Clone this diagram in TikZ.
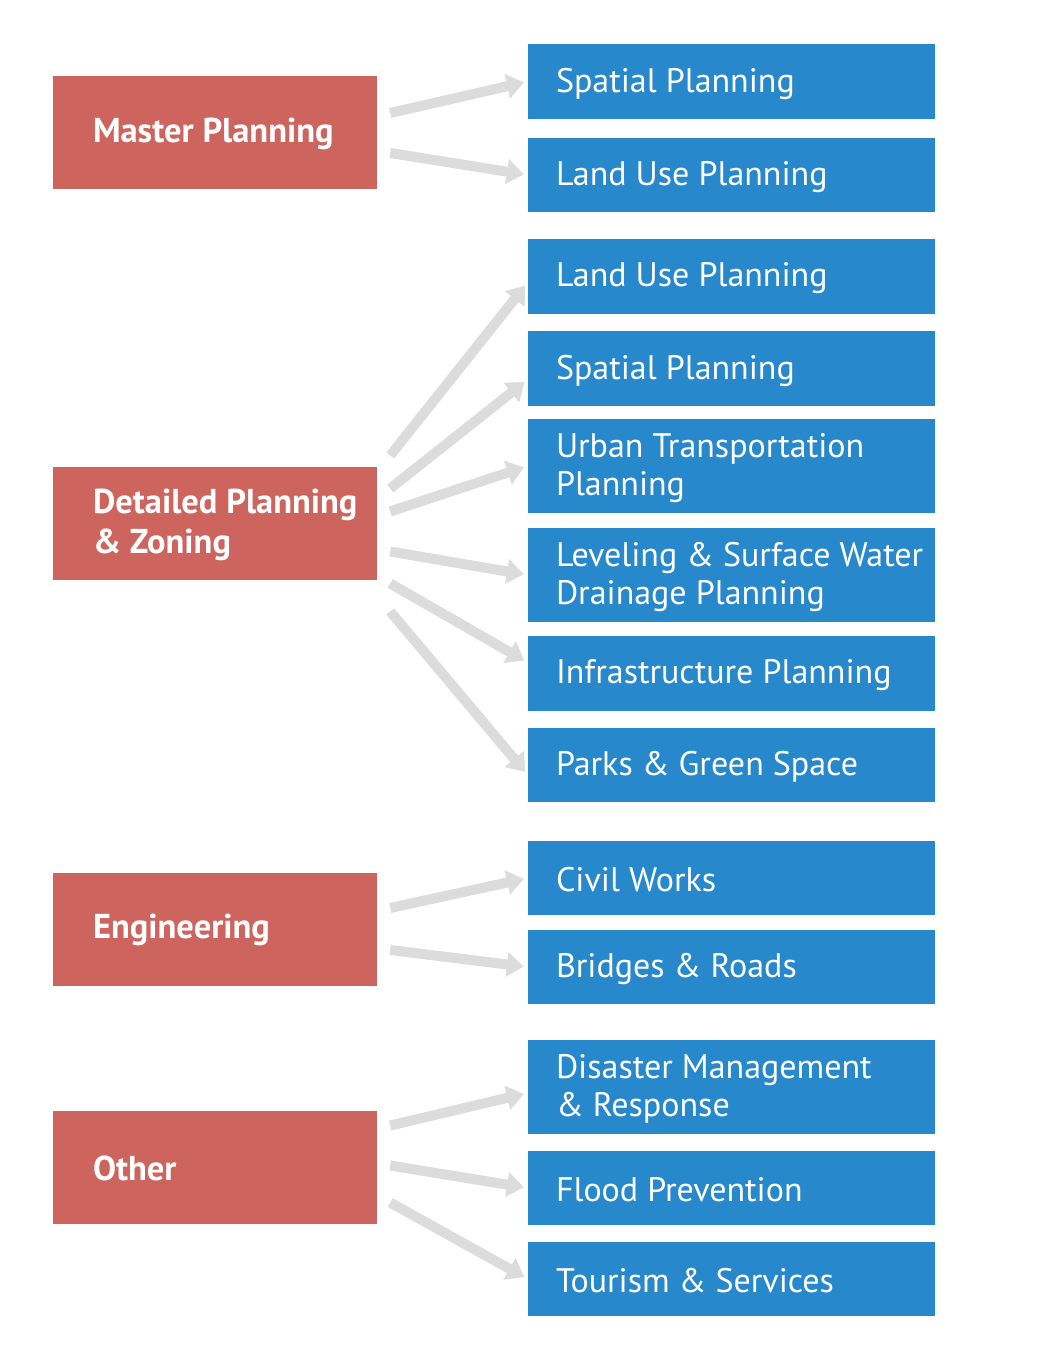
\documentclass[tikz,border=0pt]{standalone}
\usepackage{fontspec}
\setmainfont{PT Sans}
\usetikzlibrary{arrows.meta}

\definecolor{groupred}{RGB}{205,100,93}
\definecolor{taskblue}{RGB}{40,136,204}
\definecolor{linkgray}{RGB}{220,220,220}

\tikzset{
    group/.style={fill=groupred, minimum width=324pt, minimum height=113pt, inner sep=0pt},
    grouptext/.style={anchor=west, text=white, align=left, inner sep=0pt,
        font=\fontsize{34.5}{40}\selectfont\bfseries},
    task/.style={fill=taskblue, minimum width=407pt, minimum height=75pt, inner sep=0pt},
    tasktext/.style={anchor=west, text=white, align=left, inner sep=0pt,
        font=\fontsize{34}{38}\selectfont},
    link/.style={draw=linkgray, line width=10pt,
        -{Triangle[width=24pt,length=17pt]}, shorten >=4pt},
}

\begin{document}
\begin{tikzpicture}[x=1pt,y=-1pt]
    \useasboundingbox[fill=white] (0,0) rectangle (1040,1352);

    % Groups on the left
    \foreach \n/\y/\txt in {mp/132.5/{Master Planning},
                            dp/523.5/{Detailed Planning\\\& Zoning},
                            en/929/{Engineering},
                            ot/1167.5/{Other}} {
        \node[group] (\n) at (215,\y) {};
        \node[grouptext] at ([xshift=40pt,yshift=-1pt]\n.west) {\txt};
    }

    % Tasks on the right
    \foreach \n/\y/\h/\txt in {sp1/81.5/75/{Spatial Planning},
                               lu1/175/74/{Land Use Planning},
                               lu2/276.5/75/{Land Use Planning},
                               sp2/368.5/75/{Spatial Planning},
                               ut/466/94/{Urban Transportation\\Planning},
                               lv/575/94/{Leveling \& Surface Water\\Drainage Planning},
                               inf/673.5/75/{Infrastructure Planning},
                               pg/765/74/{Parks \& Green Space},
                               cw/878/74/{Civil Works},
                               br/967/74/{Bridges \& Roads},
                               dm/1087/94/{Disaster Management\\\& Response},
                               fp/1188/74/{Flood Prevention},
                               ts/1279/74/{Tourism \& Services}} {
        \node[task, minimum height=\h pt] (\n) at (731.5,\y) {};
        \node[tasktext] at ([xshift=28pt,yshift=-2pt]\n.west) {\txt};
    }

    % Arrows from each group to its tasks
    \draw[link] ([xshift=13pt,yshift=19.5pt]mp.east) -- (sp1.west);
    \draw[link] ([xshift=13pt,yshift=-20.5pt]mp.east) -- (lu1.west);

    \draw[link] ([xshift=13pt,yshift=68pt]dp.east) -- ([yshift=-6pt]lu2.west);
    \draw[link] ([xshift=13pt,yshift=35pt]dp.east) -- ([yshift=-11pt]sp2.west);
    \draw[link] ([xshift=13pt,yshift=12pt]dp.east) -- (ut.west);
    \draw[link] ([xshift=13pt,yshift=-28pt]dp.east) -- (lv.west);
    \draw[link] ([xshift=13pt,yshift=-60pt]dp.east) -- ([yshift=11pt]inf.west);
    \draw[link] ([xshift=13pt,yshift=-88pt]dp.east) -- ([yshift=-10pt]pg.west);

    \draw[link] ([xshift=13pt,yshift=21pt]en.east) -- (cw.west);
    \draw[link] ([xshift=13pt,yshift=-21pt]en.east) -- (br.west);

    \draw[link] ([xshift=13pt,yshift=42pt]ot.east) -- ([yshift=-6pt]dm.west);
    \draw[link] ([xshift=13pt,yshift=2pt]ot.east) -- (fp.west);
    \draw[link] ([xshift=13pt,yshift=-35pt]ot.east) -- (ts.west);
\end{tikzpicture}
\end{document}
